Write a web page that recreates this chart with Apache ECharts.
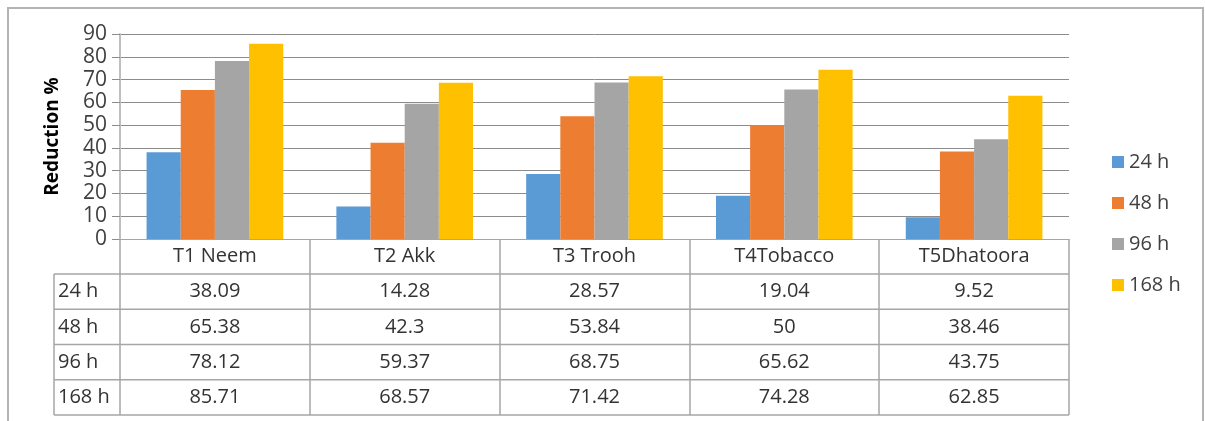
<!DOCTYPE html>
<html>
<head>
<meta charset="utf-8">
<script src="https://cdn.jsdelivr.net/npm/echarts@6/dist/echarts.min.js"></script>
<style>
  html, body { margin: 0; padding: 0; background: #fff; }
  #m1 { width: 1205px; height: 421px; }
</style>
</head>
<body>
<div id="m1"></div>
<script>
// chart data
var categories = ['T1 Neem', 'T2 Akk', 'T3 Trooh', 'T4Tobacco', 'T5Dhatoora'];
var seriesNames = ['24 h', '48 h', '96 h', '168 h'];
var h24 = [38.09, 14.28, 28.57, 19.04, 9.52];
var h48 = [65.38, 42.3, 53.84, 50, 38.46];
var h96 = [78.12, 59.37, 68.75, 65.62, 43.75];
var h168 = [85.71, 68.57, 71.42, 74.28, 62.85];
var colors = ['#5B9BD5', '#ED7D31', '#A5A5A5', '#FFC000'];

var allData = [h24, h48, h96, h168];
var font = '"Open Sans", "Liberation Sans", sans-serif';

// grid / table layout
var gridLeft = 120, gridTop = 34, gridRight = 1069, axisY = 239;
var tableLeft = 54, rowTop = 274, rowH = 35.25;

var myChart = echarts.init(document.getElementById('m1'));

var series = seriesNames.map(function (name, i) {
    return {
        name: name,
        type: 'bar',
        barGap: 0,
        barCategoryGap: '28%',
        itemStyle: { color: colors[i] },
        data: allData[i]
    };
});

var option = {
    animation: false,
    textStyle: { fontFamily: font },
    legend: {
        orient: 'vertical',
        left: 1107,
        top: 147,
        itemWidth: 12,
        itemHeight: 12,
        itemGap: 21,
        icon: 'rect',
        data: seriesNames,
        textStyle: { fontFamily: font, fontSize: 20, color: '#404040', lineHeight: 20 }
    },
    grid: {
        left: gridLeft,
        top: gridTop,
        right: 1205 - gridRight,
        bottom: 421 - axisY
    },
    xAxis: {
        type: 'category',
        data: categories,
        axisLine: { lineStyle: { color: '#a6a6a6', width: 1 } },
        axisTick: {
            show: true,
            length: 415 - axisY,
            interval: 0,
            lineStyle: { color: '#a6a6a6', width: 1.5 }
        },
        axisLabel: {
            margin: 7,
            fontSize: 20,
            color: '#333',
            fontFamily: font,
            interval: 0
        }
    },
    yAxis: {
        type: 'value',
        min: 0,
        max: 90,
        interval: 10,
        name: 'Reduction %',
        nameLocation: 'middle',
        nameGap: 58,
        nameTextStyle: { fontSize: 19, fontWeight: 'bold', color: '#000', fontFamily: font },
        axisLine: { show: true, lineStyle: { color: '#bfbfbf', width: 2 } },
        axisTick: { show: true, inside: false, length: 8, lineStyle: { color: '#8c8c8c' } },
        axisLabel: { margin: 13, fontSize: 21, color: '#404040', fontFamily: font },
        splitLine: { lineStyle: { color: '#8c8c8c', width: 1 } }
    },
    series: series
};
myChart.setOption(option);

// data table under the axis, built from the same arrays
var graphics = [];
graphics.push({
    type: 'rect',
    shape: { x: 8, y: 8, width: 1195, height: 440 },
    style: { fill: null, stroke: '#b3b3b3', lineWidth: 2 },
    silent: true
});
for (var r = 0; r <= seriesNames.length; r++) {
    var y = rowTop + r * rowH;
    graphics.push({
        type: 'line',
        shape: { x1: tableLeft, y1: y, x2: gridRight, y2: y },
        style: { stroke: '#a6a6a6', lineWidth: 1.5 },
        silent: true
    });
}
graphics.push({
    type: 'line',
    shape: { x1: tableLeft, y1: rowTop, x2: tableLeft, y2: rowTop + 4 * rowH },
    style: { stroke: '#a6a6a6', lineWidth: 1.5 },
    silent: true
});
seriesNames.forEach(function (name, r) {
    var cy = rowTop + (r + 0.5) * rowH;
    graphics.push({
        type: 'text',
        x: tableLeft + 4,
        y: cy,
        style: { text: name, fontSize: 20, fontFamily: font, fill: '#333', verticalAlign: 'middle', align: 'left' },
        silent: true
    });
    categories.forEach(function (c, j) {
        var cx = myChart.convertToPixel({ xAxisIndex: 0 }, c);
        graphics.push({
            type: 'text',
            x: cx,
            y: cy,
            style: { text: String(allData[r][j]), fontSize: 20, fontFamily: font, fill: '#333', verticalAlign: 'middle', align: 'center' },
            silent: true
        });
    });
});
myChart.setOption({ graphic: graphics });
</script>
</body>
</html>
